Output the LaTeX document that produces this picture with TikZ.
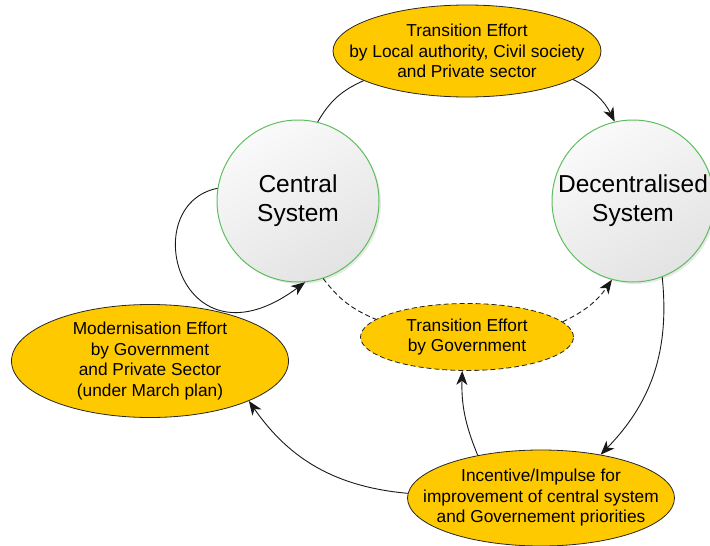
\documentclass[tikz,border=0pt]{standalone}
\usepackage{fontspec}
\setmainfont{Liberation Sans}
\usepackage{xcolor}
\usepackage{tikz}
\usetikzlibrary{shapes.geometric,arrows.meta,shadows}
\definecolor{amarelo}{RGB}{255,201,0}
\definecolor{verde}{RGB}{92,190,92}
\tikzset{
  sistema/.style={circle, draw=verde, line width=1pt, minimum size=162pt, inner sep=0pt,
                  align=center, font=\fontsize{24.5}{29}\selectfont,
                  top color=gray!4, bottom color=gray!22, shading angle=30,
                  drop shadow={opacity=0.18, shadow xshift=2pt, shadow yshift=-2pt}},
  esforco/.style={ellipse, draw=black!85, line width=0.8pt, fill=amarelo, align=center,
                  inner xsep=-26pt, inner ysep=0pt,
                  font=\fontsize{17.3}{20.5}\selectfont},
  liga/.style={-, black!90, line width=0.9pt},
  seta/.style={-{Stealth[length=14pt, width=11pt, inset=4pt]}, black!90, line width=0.9pt},
  tracejado/.style={dash pattern=on 5pt off 3pt},
}
\begin{document}
\begin{tikzpicture}[x=1pt,y=1pt]

    \useasboundingbox (0,0) rectangle (710,-546);

    %% ---------- sistemas ----------
    \node[sistema] (sisCen) at (298,-201) {Central\\System};
    \node[sistema] (sisDes) at (633,-201) {Decentralised\\System};

    %% ---------- esforcos ----------
    \node[esforco, minimum width=268pt, minimum height=92pt]  (esfLoc) at (467,-51)
      {Transition Effort\\by Local authority, Civil society\\and Private sector};
    \node[esforco, minimum width=277pt, minimum height=113pt] (esfMod) at (150,-361)
      {Modernisation Effort\\by Government\\and Private Sector\\(under March plan)};
    \node[esforco, tracejado, minimum width=213pt, minimum height=67pt] (esfGov) at (467,-337)
      {Transition Effort\\by Government};
    \node[esforco, minimum width=267pt, minimum height=96pt]  (esfInc) at (541,-498)
      {Incentive/Impulse for\\improvement of central system\\and Governement priorities};

    %% ---------- ligacoes ----------
    \draw[liga] (sisCen.76) to[bend left=18] (esfLoc.196);
    \draw[seta] (esfLoc.345) to[bend left=18] (sisDes.103);

    %% laco do sistema central sobre si mesmo
    \draw[seta] (sisCen.171) .. controls (135,-205) and (180,-375) .. (sisCen.275);

    \draw[liga, tracejado] (sisCen.288) to[bend right=15] (esfGov.169);
    \draw[seta, tracejado] (esfGov.9) to[bend right=15] (sisDes.255);

    \draw[seta] (sisDes.291) to[bend left=25] (esfInc.36);
    \draw[seta] (esfInc.146) to[bend left=12] (esfGov.262);
    \draw[seta] (esfInc.178) to[bend left=25] (esfMod.338);

    \end{tikzpicture}
\end{document}
